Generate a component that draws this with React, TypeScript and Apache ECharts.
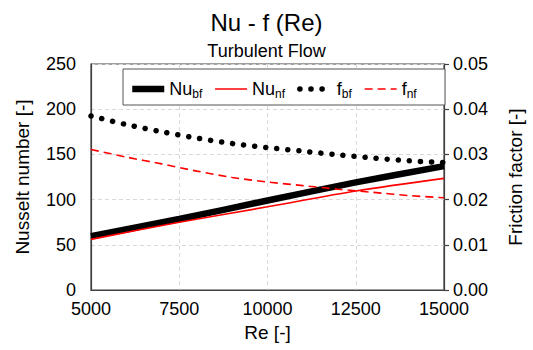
import React, { useEffect, useRef } from "react";
import * as echarts from "echarts";

const reNu = [5000, 7500, 10000, 12500, 15000];
const nuBf = [59.5, 78.5, 99, 119, 137];
const nuNf = [56, 75, 92, 109.5, 123.5];

const reF = [5000, 6000, 7000, 8000, 9000, 10000, 11000, 12000, 13000, 14000, 15000];
const fBf = [0.0385, 0.0366, 0.035, 0.0336, 0.0324, 0.0315, 0.0307, 0.0299, 0.0292, 0.0286, 0.0282];
const fNf = [0.0311, 0.0294, 0.0279, 0.0263, 0.0249, 0.0239, 0.0231, 0.0223, 0.0216, 0.0209, 0.0204];

const legendLabels: Record<string, [string, string]> = {
  Nu_bf: ["Nu", "bf"],
  Nu_nf: ["Nu", "nf"],
  f_bf: ["f", "bf"],
  f_nf: ["f", "nf"],
};

const FONT = "'Liberation Sans', Arial, sans-serif";

export default function App() {
  const ref = useRef<HTMLDivElement>(null);
  useEffect(() => {
    document.body.style.margin = "0";
    if (!ref.current) return;
    const chart = echarts.init(ref.current, undefined, { renderer: "svg" });
    const pair = (xs: number[], ys: number[]) => xs.map((x, i) => [x, ys[i]]);
    chart.setOption({
      animation: false,
      textStyle: { fontFamily: FONT, color: "#000" },
      title: [
        {
          text: "Nu - f (Re)",
          left: "center",
          top: 5,
          textStyle: { fontSize: 24, fontWeight: "normal", color: "#000", fontFamily: FONT },
        },
        {
          text: "Turbulent Flow",
          left: "center",
          top: 37,
          textStyle: { fontSize: 18, fontWeight: "normal", color: "#000", fontFamily: FONT },
        },
      ],
      grid: {
        left: 91,
        right: 88,
        top: 64,
        bottom: 60,
        show: true,
        borderColor: "#404040",
        borderWidth: 1.2,
        backgroundColor: "transparent",
      },
      graphic: [
        {
          type: "rect",
          shape: { x: 123, y: 69, width: 322, height: 36 },
          style: { fill: "#fff", stroke: "#555", lineWidth: 1 },
          z: 5,
        },
      ],
      legend: {
        left: 124,
        top: 75,
        itemWidth: 32,
        itemHeight: 14,
        itemGap: 12,
        z: 10,
        lineStyle: { width: "inherit" },
        itemStyle: { color: "transparent", borderColor: "transparent", borderWidth: 0, opacity: 0 },
        data: ["Nu_bf", "Nu_nf", "f_bf", "f_nf"],
        formatter: (name: string) => {
          const [a, b] = legendLabels[name];
          return `{n|${a}}{s|${b}}`;
        },
        textStyle: {
          fontFamily: FONT,
          rich: {
            n: { fontSize: 18, color: "#000", fontFamily: FONT },
            s: { fontSize: 12, color: "#000", fontFamily: FONT, padding: [9, 0, 0, 0] },
          },
        },
      },
      xAxis: {
        type: "value",
        min: 5000,
        max: 15000,
        interval: 2500,
        name: "Re [-]",
        nameLocation: "middle",
        nameGap: 30,
        nameTextStyle: { fontSize: 19, color: "#000", fontFamily: FONT },
        axisLine: { lineStyle: { color: "#404040", width: 1.2 } },
        axisTick: { show: false },
        axisLabel: {
          fontSize: 18,
          color: "#000",
          margin: 10,
          fontFamily: FONT,
          formatter: (v: number) => String(v),
        },
        splitLine: { show: true, lineStyle: { color: "#d9d9d9", type: [4, 3], width: 1 } },
      },
      yAxis: [
        {
          type: "value",
          min: 0,
          max: 250,
          interval: 50,
          name: "Nusselt number [-]",
          nameLocation: "middle",
          nameGap: 59,
          nameTextStyle: { fontSize: 19, color: "#000", fontFamily: FONT },
          axisLine: { show: true, lineStyle: { color: "#404040", width: 1.2 } },
          axisTick: { show: false },
          axisLabel: { fontSize: 18, color: "#000", margin: 15, fontFamily: FONT },
          splitLine: { show: true, lineStyle: { color: "#d9d9d9", type: [4, 3], width: 1 } },
        },
        {
          type: "value",
          min: 0,
          max: 0.05,
          interval: 0.01,
          position: "right",
          name: "Friction factor [-]",
          nameLocation: "middle",
          nameGap: 62,
          nameTextStyle: { fontSize: 19, color: "#000", fontFamily: FONT },
          axisLine: { show: true, lineStyle: { color: "#404040", width: 1.2 } },
          axisTick: { show: true, inside: false, length: 5, lineStyle: { color: "#404040", width: 1.2 } },
          axisLabel: {
            fontSize: 18,
            color: "#000",
            margin: 9,
            fontFamily: FONT,
            formatter: (v: number) => v.toFixed(2),
          },
          splitLine: { show: false },
        },
      ],
      series: [
        {
          name: "Nu_bf",
          type: "line",
          yAxisIndex: 0,
          data: pair(reNu, nuBf),
          smooth: 0.3,
          symbol: "none",
          lineStyle: { color: "#000", width: 6.5 },
          itemStyle: { color: "#000" },
          z: 2,
        },
        {
          name: "Nu_nf",
          type: "line",
          yAxisIndex: 0,
          data: pair(reNu, nuNf),
          smooth: 0.3,
          symbol: "none",
          lineStyle: { color: "#ff0000", width: 1.6 },
          itemStyle: { color: "#ff0000" },
          z: 3,
        },
        {
          name: "f_bf",
          type: "line",
          yAxisIndex: 1,
          data: pair(reF, fBf),
          smooth: 0.3,
          symbol: "none",
          lineStyle: { color: "#000", width: 5.5, type: [0.1, 11], cap: "round" },
          itemStyle: { color: "#000" },
          z: 4,
        },
        {
          name: "f_nf",
          type: "line",
          yAxisIndex: 1,
          data: pair(reF, fNf),
          smooth: 0.3,
          symbol: "none",
          lineStyle: { color: "#ff0000", width: 1.6, type: [8, 5] },
          itemStyle: { color: "#ff0000" },
          z: 4,
        },
      ],
    });
    return () => chart.dispose();
  }, []);
  return <div ref={ref} style={{ width: 533, height: 350 }} />;
}
